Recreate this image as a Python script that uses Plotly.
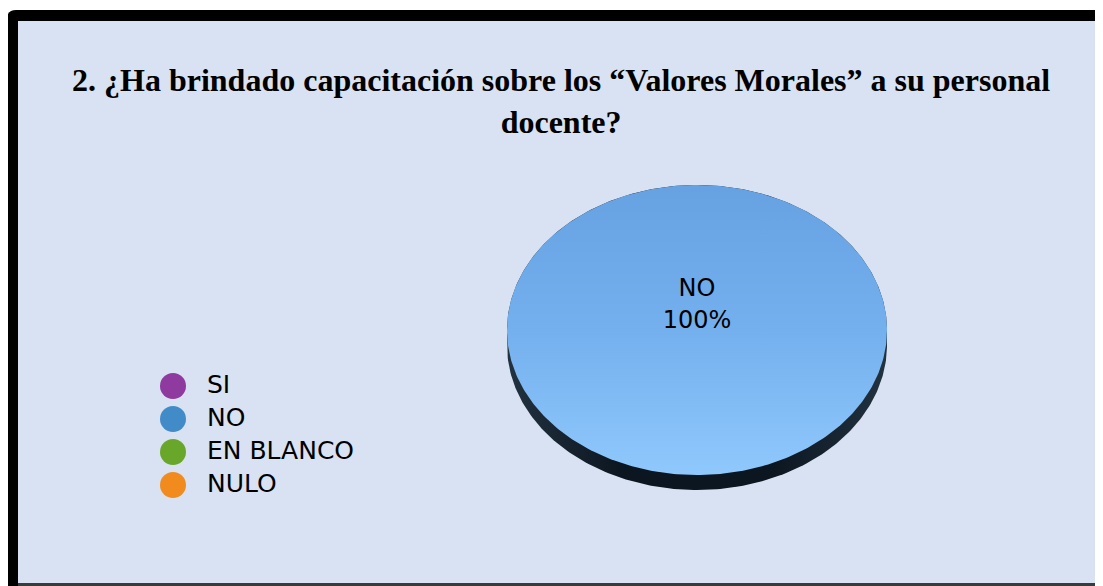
import math
import plotly.graph_objects as go

# ---- data ----
title_lines = ["2. ¿Ha brindado capacitación sobre los “Valores Morales” a su personal", "docente?"]
categories = ["SI", "NO", "EN BLANCO", "NULO"]
values = [0, 100, 0, 0]
colors = ["#8e3a9e", "#428bc9", "#69a72a", "#f28b1e"]

# ---- layout geometry (page pixel space; the page body has an 8px margin) ----
W, H = 1103, 586
OFF = 8
CX, CY = 697, 330      # pie centre
RX, RY = 190, 145      # ellipse radii of the top face
DEPTH = 15             # 3D rim thickness
N = 360

fig = go.Figure()

total = sum(values)

# 3D rim (cylinder side): top half of the face + lower half shifted down
rim_x, rim_y = [], []
for k in range(N // 2 + 1):
    a = math.pi * k / (N // 2)
    rim_x.append(CX + RX * math.cos(a))
    rim_y.append(CY - RY * math.sin(a))
for k in range(N // 2 + 1):
    a = math.pi + math.pi * k / (N // 2)
    rim_x.append(CX + RX * math.cos(a))
    rim_y.append(CY + DEPTH - RY * math.sin(a))
fig.add_trace(go.Scatter(
    x=rim_x, y=rim_y, mode="lines", fill="toself", line=dict(width=0),
    fillgradient=dict(type="horizontal",
                      colorscale=[[0, "#22323f"], [0.3, "#0c1621"], [0.7, "#0c1621"], [1, "#22323f"]]),
    fillcolor="#0e1925", hoverinfo="skip", showlegend=False))

# slices of the top face, computed from the values
start = -math.pi / 2
for cat, val, col in zip(categories, values, colors):
    if val <= 0:
        continue
    sweep = 2 * math.pi * val / total
    steps = max(2, int(N * val / total))
    xs, ys = [], []
    if val < total:
        xs.append(CX); ys.append(CY)
    for k in range(steps + 1):
        a = start + sweep * k / steps
        xs.append(CX + RX * math.cos(a))
        ys.append(CY + RY * math.sin(a))
    fig.add_trace(go.Scatter(
        x=xs, y=ys, mode="lines", fill="toself", line=dict(width=0),
        fillgradient=dict(type="vertical",
                          colorscale=[[0, "#8fc8fc"], [0.5, "#74b0ee"], [1, "#66a2e2"]]),
        fillcolor="#78b4f0", hoverinfo="skip", showlegend=False))
    mid = start + sweep / 2
    if val < total:
        lx = CX + 0.6 * RX * math.cos(mid)
        ly = CY + 0.6 * RY * math.sin(mid)
    else:
        lx, ly = CX, CY - 24
    fig.add_trace(go.Scatter(
        x=[lx], y=[ly], mode="text",
        text=[f"{cat}<br>{round(100 * val / total)}%"],
        textfont=dict(family="DejaVu Sans", size=24, color="#000000"),
        textposition="middle center", hoverinfo="skip", showlegend=False))
    start += sweep

# legend, drawn from the categories
LEG_X, LEG_Y0, LEG_DY = 173, 386, 33
fig.add_trace(go.Scatter(
    x=[LEG_X] * len(categories),
    y=[LEG_Y0 + i * LEG_DY for i in range(len(categories))],
    mode="markers", marker=dict(size=26, color=colors, line=dict(width=0)),
    hoverinfo="skip", showlegend=False))
fig.add_trace(go.Scatter(
    x=[LEG_X + 34] * len(categories),
    y=[LEG_Y0 + i * LEG_DY + 1 for i in range(len(categories))],
    mode="text", text=categories, textposition="middle right",
    textfont=dict(family="DejaVu Sans", size=25, color="#000000"),
    hoverinfo="skip", showlegend=False))

# frame
shapes = [
    dict(type="path", xref="x", yref="y",
         path="M 7 19 Q 7 10 16 10 L 1103 10 L 1103 586 L 7 586 Z",
         fillcolor="#000000", line=dict(width=0), layer="below"),
    dict(type="rect", xref="x", yref="y", x0=18, x1=1101, y0=21, y1=583,
         fillcolor="#d9e2f2", line=dict(width=0), layer="below"),
    dict(type="rect", xref="x", yref="y", x0=1101, x1=1103, y0=21, y1=583,
         fillcolor="#b8bcc4", line=dict(width=0), layer="below"),
    dict(type="rect", xref="x", yref="y", x0=18, x1=1103, y0=583, y1=586,
         fillcolor="#3a3a3a", line=dict(width=0), layer="below"),
]

title_html = "<br>".join(f"<b>{t}</b>" for t in title_lines)

fig.update_layout(
    width=W - OFF, height=H - OFF,
    margin=dict(l=0, r=0, t=0, b=0, pad=0),
    paper_bgcolor="#ffffff", plot_bgcolor="rgba(0,0,0,0)",
    xaxis=dict(range=[OFF, W], visible=False, fixedrange=True),
    yaxis=dict(range=[H, OFF], visible=False, fixedrange=True),
    shapes=shapes,
    showlegend=False,
    annotations=[dict(
        text=title_html, xref="x", yref="y", x=561, y=101,
        xanchor="center", yanchor="middle", showarrow=False,
        font=dict(family="Liberation Serif", size=32, color="#000000"),
        align="center")],
)

fig.write_html("out.html", config={"displayModeBar": False},
               post_script="document.body.style.overflow='hidden';")
